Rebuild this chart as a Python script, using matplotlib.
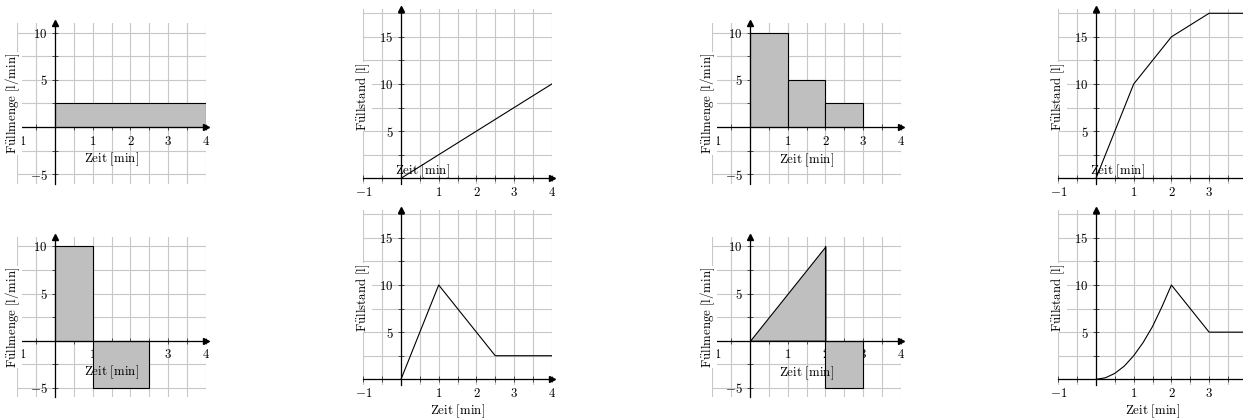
import numpy as np
import matplotlib
matplotlib.use('Agg')
import matplotlib.pyplot as plt

plt.rcParams['mathtext.fontset'] = 'cm'
plt.rcParams['font.size'] = 9.3

# ---------------- data ----------------
x_grid = [-1, -0.5, 0, 0.5, 1, 1.5, 2, 2.5, 3, 3.5, 4]
x_labels = ['$-1$', '', '', '', '$1$', '', '$2$', '', '$3$', '', '$4$']
rate_y_grid = [-5, -2.5, 0, 2.5, 5, 7.5, 10]
rate_y_labels = ['$-5$', '', '', '', '$5$', '', '$10$']
level_y_grid = [0, 2.5, 5, 7.5, 10, 12.5, 15, 17.5]
level_y_labels = ['', '', '$5$', '', '$10$', '', '$15$', '']

rate_label = r'$\mathrm{F\ddot{u}llmenge\ [l/min]}$'
level_label = r'$\mathrm{F\ddot{u}llstand\ [l]}$'
time_label = r'$\mathrm{Zeit\ [min]}$'

# top row
rate_a_edges = [0, 4]
rate_a_vals = [2.5]
level_a_t = [0, 4]
level_a_v = [0, 10]
rate_b_edges = [0, 1, 2, 3]
rate_b_vals = [10, 5, 2.5]
level_b_t = [0, 1, 2, 3, 4]
level_b_v = [0, 10, 15, 17.5, 17.5]
# bottom row
rate_c_edges = [0, 1, 2.5]
rate_c_vals = [10, -5]
level_c_t = [0, 1, 2.5, 4]
level_c_v = [0, 10, 2.5, 2.5]
rate_d_ramp_t = [0, 2]
rate_d_ramp_v = [0, 10]
rate_d_edges = [2, 3]
rate_d_vals = [-5]
level_d_t = [0, 0.25, 0.5, 0.75, 1, 1.25, 1.5, 1.75, 2, 3, 4]
level_d_v = [0, 0.16, 0.63, 1.4, 2.5, 3.9, 5.6, 7.7, 10, 5, 5]

RATE_LIM = (-6, 11)
LEVEL_LIM = (-0.6, 18)
X_LIM = (-1, 4)

FILL = '#bfbfbf'
GRID = '#c8c8c8'

W, H = 1243, 418
fig = plt.figure(figsize=(W / 100, H / 100), dpi=100)

PX_X = 37.7
PX_Y = 9.43


def make_axes(left_px, zero_px, ylim):
    w = (X_LIM[1] - X_LIM[0]) * PX_X
    top = zero_px - ylim[1] * PX_Y
    h = (ylim[1] - ylim[0]) * PX_Y
    ax = fig.add_axes([left_px / W, 1 - (top + h) / H, w / W, h / H])
    ax.set_xlim(*X_LIM)
    ax.set_ylim(*ylim)
    return ax


def style(ax, kind, xlabel_pos):
    ax.set_axisbelow(True)
    ax.set_xticks(x_grid, x_labels)
    if kind == 'rate':
        ax.set_yticks(rate_y_grid, rate_y_labels)
        ylim = RATE_LIM
        ylab, ylab_x = rate_label, -1.13
    else:
        ax.set_yticks(level_y_grid, level_y_labels)
        ylim = LEVEL_LIM
        ylab, ylab_x = level_label, -1.0
    ax.grid(True, color=GRID, lw=0.8)
    for s in ['top', 'right']:
        ax.spines[s].set_visible(False)
    for s in ['left', 'bottom']:
        ax.spines[s].set_position(('data', 0))
        ax.spines[s].set_linewidth(0.9)
    ax.tick_params(direction='inout', length=4, width=0.6, color='#333333')
    ax.tick_params(axis='x', pad=3.5)
    ax.tick_params(axis='y', pad=3.5)
    ax.plot([1], [0], marker='>', ms=4, color='k',
            transform=ax.get_yaxis_transform(), clip_on=False, zorder=4)
    ax.plot([0], [1], marker='^', ms=4, color='k',
            transform=ax.get_xaxis_transform(), clip_on=False, zorder=4)
    ax.text(ylab_x, (ylim[0] + ylim[1]) / 2, ylab, rotation=90,
            ha='center', va='center', zorder=6,
            bbox=dict(fc='white', ec='none', pad=0.3))
    ax.text(xlabel_pos[0], xlabel_pos[1], time_label, ha='center',
            va='center', zorder=5, clip_on=False)


def bars(ax, edges, vals):
    ax.bar(edges[:-1], vals, width=np.diff(edges), align='edge',
           color=FILL, edgecolor='k', lw=0.8, zorder=1)


cols = [17.3, 363.3, 712.3, 1058.3]

# panel 1
ax = make_axes(cols[0], 127.0, RATE_LIM)
style(ax, 'rate', (1.5, -3.45))
bars(ax, rate_a_edges, rate_a_vals)

# panel 2
ax = make_axes(cols[1], 178.3, LEVEL_LIM)
style(ax, 'level', (0.58, 0.8))
ax.plot(level_a_t, level_a_v, color='k', lw=0.8)

# panel 3
ax = make_axes(cols[2], 127.0, RATE_LIM)
style(ax, 'rate', (1.5, -3.5))
bars(ax, rate_b_edges, rate_b_vals)

# panel 4
ax = make_axes(cols[3], 178.3, LEVEL_LIM)
style(ax, 'level', (0.58, 0.8))
ax.plot(level_b_t, level_b_v, color='k', lw=0.8)

# panel 5
ax = make_axes(cols[0], 340.7, RATE_LIM)
style(ax, 'rate', (1.5, -3.35))
bars(ax, rate_c_edges, rate_c_vals)

# panel 6
ax = make_axes(cols[1], 379.3, LEVEL_LIM)
style(ax, 'level', (1.5, -3.4))
ax.plot(level_c_t, level_c_v, color='k', lw=0.8)

# panel 7
ax = make_axes(cols[2], 340.7, RATE_LIM)
style(ax, 'rate', (1.5, -3.45))
ax.fill_between(rate_d_ramp_t, rate_d_ramp_v, 0, facecolor=FILL,
                edgecolor='k', lw=0.8, zorder=1)
ax.plot([rate_d_ramp_t[-1]] * 2, [0, rate_d_ramp_v[-1]], color='k', lw=0.8)
bars(ax, rate_d_edges, rate_d_vals)

# panel 8
ax = make_axes(cols[3], 379.3, LEVEL_LIM)
style(ax, 'level', (1.5, -3.4))
ax.plot(level_d_t, level_d_v, color='k', lw=0.8)

fig.savefig('out.png', dpi=100)
